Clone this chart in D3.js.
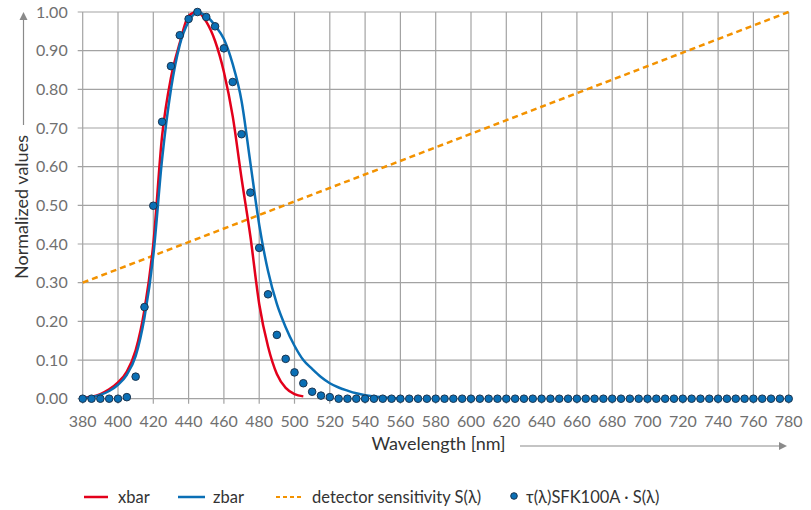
<!DOCTYPE html>
<html><head><meta charset="utf-8">
<script src="https://cdn.jsdelivr.net/npm/d3@7"></script>
<style>
body{margin:0;background:#fff;}
svg{display:block;font-family:Lato, "Open Sans", sans-serif;}
</style></head><body>
<svg id="chart" width="811" height="510"></svg>
<script>
// ---- data ----
const xTicks = [380,400,420,440,460,480,500,520,540,560,580,600,620,640,660,680,700,720,740,760,780];
const yTicks = [0,0.1,0.2,0.3,0.4,0.5,0.6,0.7,0.8,0.9,1.0];

const xbarWl = [380,385,390,395,400,405,410,415,420,425,430,435,440,445,450,455,460,465,470,475,480,485,490,495,500,505];
const xbarVal = [0.002,0.005,0.012,0.024,0.042,0.070,0.125,0.230,0.400,0.680,0.830,0.920,0.990,1.000,0.975,0.925,0.845,0.730,0.570,0.420,0.245,0.135,0.064,0.028,0.012,0.006];

const zbarWl = [380,385,390,395,400,405,410,415,420,425,430,435,440,445,450,455,460,465,470,475,480,485,490,495,500,505,510,515,520,525,530,535,540,545,550,555,560];
const zbarVal = [0.002,0.004,0.010,0.020,0.036,0.062,0.110,0.210,0.370,0.620,0.800,0.915,0.975,0.998,0.990,0.965,0.930,0.865,0.770,0.610,0.450,0.330,0.245,0.185,0.137,0.100,0.077,0.056,0.040,0.029,0.021,0.014,0.009,0.006,0.004,0.002,0.001];

const detWl = [380,780];
const detVal = [0.30,1.00];

const dotWl = [380,385,390,395,400,405,410,415,420,425,430,435,440,445,450,455,460,465,470,475,480,485,490,495,500,505,510,515,520,525,530,535,540,545,550,555,560,565,570,575,580,585,590,595,600,605,610,615,620,625,630,635,640,645,650,655,660,665,670,675,680,685,690,695,700,705,710,715,720,725,730,735,740,745,750,755,760,765,770,775,780];
const dotVal = [0,0,0,0,0,0.004,0.057,0.237,0.499,0.716,0.860,0.940,0.982,1.000,0.987,0.963,0.906,0.819,0.684,0.533,0.390,0.270,0.165,0.103,0.068,0.040,0.018,0.008,0.004,0,0,0,0,0,0,0,0,0,0,0,0,0,0,0,0,0,0,0,0,0,0,0,0,0,0,0,0,0,0,0,0,0,0,0,0,0,0,0,0,0,0,0,0,0,0,0,0,0,0,0,0];

const legendItems = ["xbar","zbar","detector sensitivity S(λ)","τ(λ)SFK100A · S(λ)"];

// ---- style ----
const C_RED = "#e3001b", C_BLUE = "#0a6fb5", C_ORANGE = "#f39200", C_GRID = "#a3a3a3";
const M = {left:82.7, right:22.3, top:12, bottom:111.3};
const W = 811, H = 510;

const svg = d3.select("#chart");
const x = d3.scaleLinear().domain([380,780]).range([M.left, W - M.right]);
const y = d3.scaleLinear().domain([0,1]).range([H - M.bottom, M.top]);

// grid
const g = svg.append("g");
g.selectAll("line.v").data(xTicks).join("line")
  .attr("x1", d=>x(d)).attr("x2", d=>x(d))
  .attr("y1", y(1)).attr("y2", y(0)+5)
  .attr("stroke", C_GRID).attr("stroke-width", 1.2);
g.selectAll("line.h").data(yTicks).join("line")
  .attr("x1", x(380)-5).attr("x2", x(780))
  .attr("y1", d=>y(d)).attr("y2", d=>y(d))
  .attr("stroke", C_GRID).attr("stroke-width", 1.2);

// axes labels
svg.append("g").selectAll("text").data(xTicks).join("text")
  .attr("x", d=>x(d)).attr("y", y(0)+28)
  .attr("text-anchor","middle").attr("font-size",16).attr("fill","#707070")
  .text(d=>d);
svg.append("g").selectAll("text").data(yTicks).join("text")
  .attr("x", x(380)-15).attr("y", d=>y(d)+5.5)
  .attr("text-anchor","end").attr("font-size",16).attr("fill","#707070")
  .text(d=>d3.format(".2f")(d));

// axis titles
svg.append("text").attr("x", 438.5).attr("y", 450).attr("text-anchor","middle")
  .attr("font-size",18).attr("fill","#333").text("Wavelength [nm]");
svg.append("line").attr("x1",520).attr("x2",780).attr("y1",446).attr("y2",446)
  .attr("stroke","#8a8a8a").attr("stroke-width",1.2);
svg.append("path").attr("d","M787,446 L779,442 L779,450 Z").attr("fill","#8a8a8a");

svg.append("text").attr("transform","translate(28,207) rotate(-90)").attr("text-anchor","middle")
  .attr("font-size",18).attr("fill","#333").text("Normalized values");
svg.append("line").attr("x1",23.5).attr("x2",23.5).attr("y1",125).attr("y2",20)
  .attr("stroke","#8a8a8a").attr("stroke-width",1.2);
svg.append("path").attr("d","M23.5,12 L19.5,20 L27.5,20 Z").attr("fill","#8a8a8a");

// series
const line = d3.line().x(d=>x(d[0])).y(d=>y(d[1])).curve(d3.curveMonotoneX);
svg.append("path").datum(d3.zip(detWl,detVal)).attr("d", d3.line().x(d=>x(d[0])).y(d=>y(d[1])))
  .attr("fill","none").attr("stroke",C_ORANGE).attr("stroke-width",2.5).attr("stroke-dasharray","6,4");
svg.append("path").datum(d3.zip(xbarWl,xbarVal)).attr("d", line)
  .attr("fill","none").attr("stroke",C_RED).attr("stroke-width",2.5);
svg.append("path").datum(d3.zip(zbarWl,zbarVal)).attr("d", line)
  .attr("fill","none").attr("stroke",C_BLUE).attr("stroke-width",2.5);
svg.append("g").selectAll("circle").data(d3.zip(dotWl,dotVal)).join("circle")
  .attr("cx", d=>x(d[0])).attr("cy", d=>y(d[1])).attr("r",3.8)
  .attr("fill",C_BLUE).attr("stroke","#1b3550").attr("stroke-width",1);

// legend
const ly = 497;
const lg = svg.append("g").attr("font-size",16.5).attr("fill","#333");
lg.append("line").attr("x1",84).attr("x2",108).attr("y1",ly).attr("y2",ly).attr("stroke",C_RED).attr("stroke-width",2.5);
lg.append("text").attr("x",118).attr("y",ly+5.5).text(legendItems[0]);
lg.append("line").attr("x1",178).attr("x2",205).attr("y1",ly).attr("y2",ly).attr("stroke",C_BLUE).attr("stroke-width",2.5);
lg.append("text").attr("x",213).attr("y",ly+5.5).text(legendItems[1]);
lg.append("line").attr("x1",276).attr("x2",302).attr("y1",ly).attr("y2",ly).attr("stroke",C_ORANGE).attr("stroke-width",2).attr("stroke-dasharray","4,3");
lg.append("text").attr("x",312).attr("y",ly+5.5).text(legendItems[2]);
lg.append("circle").attr("cx",514).attr("cy",ly-1).attr("r",3.3).attr("fill",C_BLUE).attr("stroke","#1b3550").attr("stroke-width",1);
lg.append("text").attr("x",526).attr("y",ly+5.5).text(legendItems[3]);
</script>
</body></html>
